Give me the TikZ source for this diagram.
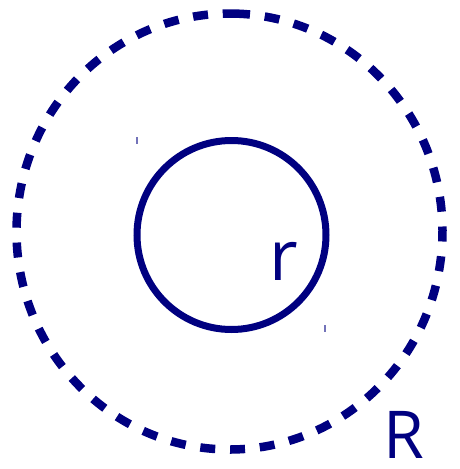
\documentclass[tikz,border=0pt]{standalone}
\usepackage{fontspec}
\setmainfont{Open Sans}
\definecolor{navyc}{RGB}{0,0,128}
\begin{document}
\begin{tikzpicture}[x=1pt,y=-1pt,
  outer/.style={draw=navyc,line width=8.5pt},
  inner/.style={draw=navyc,line width=7pt},
  lbl/.style={text=navyc,inner sep=0pt,anchor=base},
  tick/.style={draw=navyc!55,line width=1.2pt}]
\useasboundingbox (0,0) rectangle (459,469);
\coordinate (c1) at (229.5,231.5);
\coordinate (c2) at (231.5,235);
% outer dashed ring: one long dash at the top, then regular dashes
\draw[outer] (c1) ++(268.25:213 and 218) arc[start angle=268.25, end angle=275.52, x radius=213, y radius=218];
\draw[outer,dash pattern=on 15pt off 14.82pt,dash phase=15pt] (c1) ++(275.52:213 and 218) arc[start angle=275.52, end angle=628.25, x radius=213, y radius=218];
\draw[inner] (c2) circle[radius=94.5];
\node[lbl,font=\fontsize{70}{70}\selectfont] (r) at (284,280) {r};
\node[lbl,font=\fontsize{66}{66}\selectfont] (R) at (404,458) {R};
\coordinate (t1a) at (137,137);
\coordinate (t1b) at (137,144);
\coordinate (t2a) at (325,325);
\coordinate (t2b) at (325,332);
\draw[tick] (t1a) -- (t1b);
\draw[tick] (t2a) -- (t2b);
\end{tikzpicture}
\end{document}
